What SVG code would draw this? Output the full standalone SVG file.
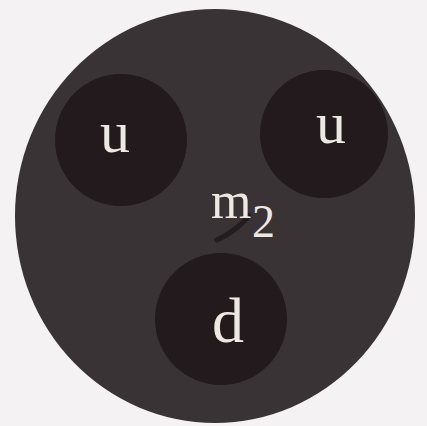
<svg xmlns="http://www.w3.org/2000/svg" width="427" height="426" viewBox="0 0 427 426">
<style>
.q{fill:#221a1c}
.t{font-family:"Liberation Serif","DejaVu Serif",serif;fill:#ece8e4}
</style>
<rect width="427" height="426" fill="#f4f2f2"/>
<g id="hadron">
<ellipse cx="215" cy="216" rx="200" ry="207" fill="#3a3335"/>
</g>
<g id="quark-u1">
<circle class="q" cx="121" cy="140" r="66"/>
<text class="t" x="100" y="152" font-size="60">u</text>
</g>
<g id="quark-u2">
<circle class="q" cx="324" cy="134" r="64" fill="#2a2224"/>
<text class="t" x="316" y="143" font-size="60">u</text>
</g>
<g id="quark-d">
<circle class="q" cx="221" cy="319" r="66" fill="#282123"/>
<text class="t" x="212" y="342" font-size="64">d</text>
</g>
<g id="label-m2">
<path d="M217 240 Q236 231 249 216" stroke="#241d1f" stroke-width="5" fill="none" stroke-linecap="round"/>
<text class="t" x="211" y="218" font-size="52">m</text>
<text class="t" x="252" y="237" font-size="46">2</text>
</g>
<g id="connectors"/>
</svg>
